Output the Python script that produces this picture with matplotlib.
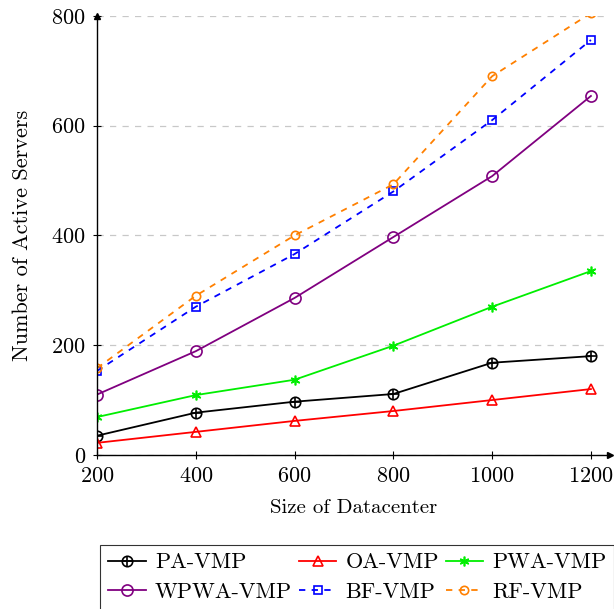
import matplotlib
matplotlib.use("Agg")
import matplotlib.pyplot as plt
from matplotlib.legend_handler import HandlerTuple

plt.rcParams['font.family'] = 'serif'
plt.rcParams['font.serif'] = ['cmr10']
plt.rcParams['mathtext.fontset'] = 'cm'
plt.rcParams['axes.formatter.use_mathtext'] = True

sizes = [200, 400, 600, 800, 1000, 1200]
pa_vmp = [35, 77, 97, 111, 168, 180]
oa_vmp = [22, 42, 62, 80, 100, 120]
pwa_vmp = [69, 109, 137, 199, 270, 335]
wpwa_vmp = [110, 189, 286, 397, 508, 654]
bf_vmp = [153, 270, 366, 480, 610, 756]
rf_vmp = [158, 290, 400, 493, 690, 805]
y_ticks = [0, 200, 400, 600, 800]

fig = plt.figure(figsize=(6.14, 6.09), dpi=100)
ax = fig.add_axes([0.158, 0.253, 0.835, 0.721])

for y in y_ticks:
    ax.axhline(y, color='#c8c8c8', lw=0.9, ls=(0, (5, 5)), zorder=0)

pa_line, = ax.plot(sizes, pa_vmp, color='black', lw=1.3, marker='o', ms=7.5,
                   mfc='none', mew=1.2)
pa_plus, = ax.plot(sizes, pa_vmp, color='black', lw=0, marker='+', ms=7.5, mew=1.2)
oa, = ax.plot(sizes, oa_vmp, color='red', lw=1.3, marker='^', ms=6.5,
              mfc='none', mew=1.2)
pwa, = ax.plot(sizes, pwa_vmp, color='#00ee00', lw=1.3, marker=(6, 2, 0), ms=7,
               mew=1.2)
wpwa, = ax.plot(sizes, wpwa_vmp, color='purple', lw=1.3, marker='o', ms=8,
                mfc='none', mew=1.2)
bf, = ax.plot(sizes, bf_vmp, color='blue', lw=1.3, ls=(0, (3.5, 3.5)), marker='s',
              ms=6, mfc='none', mew=1.2)
rf, = ax.plot(sizes, rf_vmp, color='#ff8000', lw=1.3, ls=(0, (3.5, 3.5)), marker='o',
              ms=6, mfc='none', mew=1.2)

ax.set_xlim(200, 1238)
ax.set_ylim(0, 800)
ax.set_xticks(sizes)
ax.set_yticks(y_ticks)
ax.tick_params(direction='inout', length=6, width=0.8, labelsize=16)
ax.tick_params(axis='x', pad=5)
ax.tick_params(axis='y', pad=5)
for s in ['top', 'right']:
    ax.spines[s].set_visible(False)
for s in ['left', 'bottom']:
    ax.spines[s].set_linewidth(1.0)
ax.plot(1, 0, '>', color='black', ms=4, transform=ax.transAxes, clip_on=False)
ax.plot(0, 1, '^', color='black', ms=4, transform=ax.transAxes, clip_on=False)

ax.set_xlabel('Size of Datacenter', fontsize=15, labelpad=10)
ax.set_ylabel('Number of Active Servers', fontsize=16, labelpad=14)

handles = [(pa_line, pa_plus), wpwa, oa, bf, pwa, rf]
labels = ['PA-VMP', 'WPWA-VMP', 'OA-VMP', 'BF-VMP', 'PWA-VMP', 'RF-VMP']
leg = fig.legend(handles, labels, ncol=3, loc='upper center', numpoints=1,
                 bbox_to_anchor=(0.582, 0.105), borderaxespad=0, fontsize=16,
                 frameon=True, fancybox=False, edgecolor='black', handlelength=1.7,
                 columnspacing=0.3, handletextpad=0.4, borderpad=0.35,
                 labelspacing=0.45, handler_map={tuple: HandlerTuple(ndivide=1)})
leg.get_frame().set_linewidth(0.8)

fig.savefig('out.png', dpi=100)
